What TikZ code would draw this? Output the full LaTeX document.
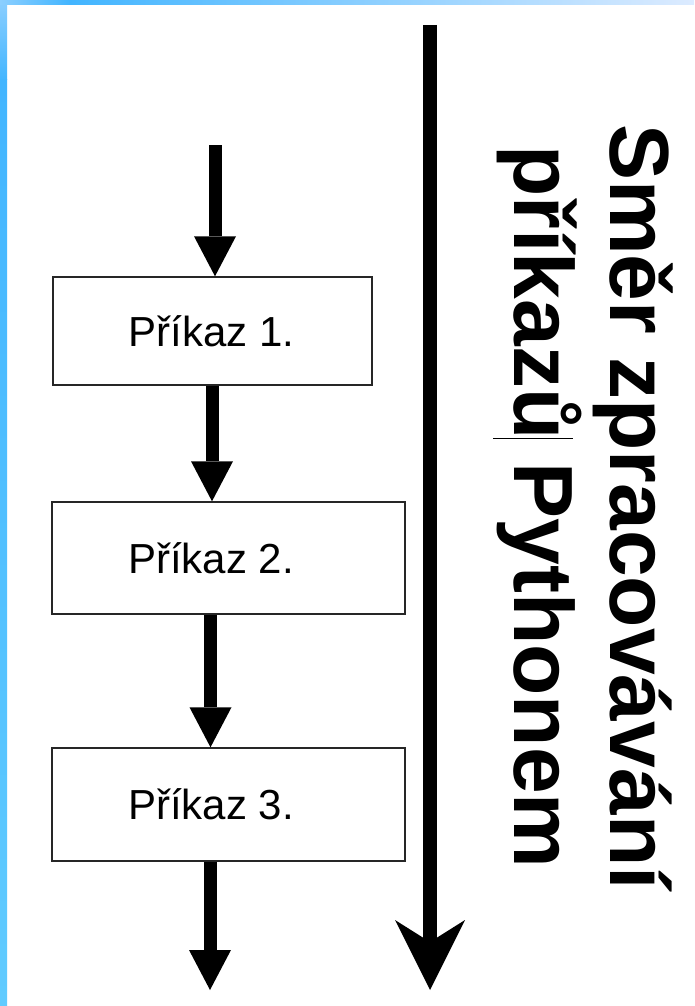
\documentclass[tikz,border=0pt]{standalone}
\usepackage{fontspec}
\setmainfont{Liberation Sans}
\usetikzlibrary{arrows.meta,calc}
\definecolor{barA}{HTML}{8CCFFF}
\definecolor{barB}{HTML}{42B5FF}
\definecolor{barC}{HTML}{DCEBFF}
\definecolor{barD}{HTML}{60CBFF}
\tikzset{
  cmdbox/.style={draw=black!85, line width=1.4pt, fill=white,
    inner sep=0pt, font=\fontsize{42}{50}\selectfont},
  boxlabel/.style={font=\fontsize{42}{50}\selectfont, inner sep=0pt},
  flowarr/.style={line width=13pt, -{Triangle[width=42pt,length=40pt,line width=0pt]}},
  bigarr/.style={line width=14pt, -{Stealth[width=70pt,length=70pt,inset=22pt,line width=0pt]}},
  sidetext/.style={rotate=-90, align=center, inner sep=0pt,
    font=\bfseries\fontsize{84}{96}\selectfont}
}
\begin{document}
\begin{tikzpicture}[x=1pt,y=-1pt]
\useasboundingbox (0,0) rectangle (694,1006);
\fill[white] (0,0) rectangle (694,1006);
% blue frame
\shade[top color=barA, bottom color=barB] (0,0) rectangle (7,80);
\shade[top color=barB, bottom color=barD] (0,80) rectangle (7,1006);
\shade[left color=barA, right color=barB] (0,0) rectangle (70,5);
\shade[left color=barB, right color=barC] (70,0) rectangle (694,5);
% boxes
\node[cmdbox, minimum width=319pt, minimum height=108pt,
  label={[boxlabel, xshift=-1pt]center:Příkaz 1.}] (b1) at (212.5,331) {};
\node[cmdbox, minimum width=353pt, minimum height=112pt,
  label={[boxlabel, xshift=-17.5pt]center:Příkaz 2.}] (b2) at (228.5,558) {};
\node[cmdbox, minimum width=353pt, minimum height=113pt,
  label={[boxlabel, xshift=-17.5pt]center:Příkaz 3.}] (b3) at (228.5,804.5) {};
% flow arrows
\coordinate (a0) at (215,145);
\coordinate (a1) at (212,0);
\coordinate (a2) at (210.5,0);
\coordinate (a3) at (210,990);
\draw[flowarr] (a0) -- (a0 |- b1.north);
\draw[flowarr] (a1 |- b1.south) -- (a1 |- b2.north);
\draw[flowarr] (a2 |- b2.south) -- (a2 |- b3.north);
\draw[flowarr] (a3 |- b3.south) -- (a3);
% big arrow
\coordinate (s0) at (430,25);
\coordinate (s1) at (430,990);
\draw[bigarr] (s0) -- (s1);
% side text
\node[sidetext] (t) at (585,507) {Směr zpracovávání\\příkazů Pythonem};
\draw[line width=1pt] (493,438) -- (573,438);
\end{tikzpicture}
\end{document}
